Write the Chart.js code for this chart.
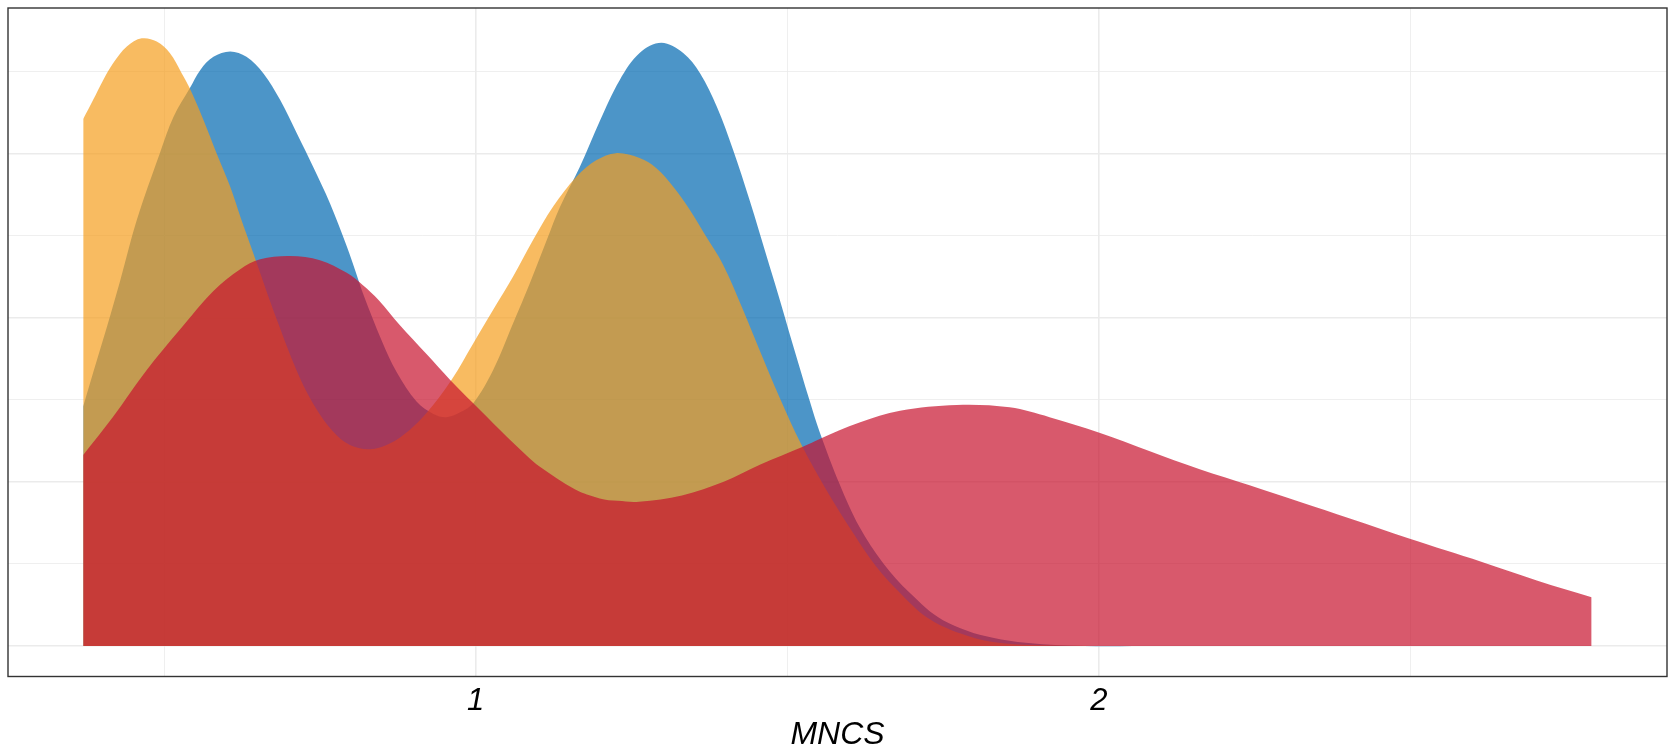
<!DOCTYPE html>
<html lang="en">
<head>
    <meta charset="UTF-8">
    <title>MNCS density</title>
    <script src="https://cdn.jsdelivr.net/npm/chart.js"></script>
    <style>
        html, body {
            margin: 0;
            padding: 0;
            background: #ffffff;
        }
        .container {
            width: 1671px;
            height: 750px;
        }
    </style>
</head>
<body>
    <div class="container">
        <canvas id="densityChart"></canvas>
    </div>

    <script>
        // density curves (x = MNCS)
        const orangeX = [0.370, 0.386, 0.402, 0.418, 0.440, 0.464, 0.488, 0.509, 0.528, 0.541, 0.563, 0.584, 0.606, 0.624, 0.643, 0.681, 0.718, 0.745, 0.771, 0.798, 0.830, 0.862, 0.894, 0.921, 0.961, 0.996, 1.028, 1.060, 1.092, 1.124, 1.162, 1.194, 1.225, 1.263, 1.290, 1.317, 1.344, 1.370, 1.397, 1.429, 1.456, 1.488, 1.523, 1.563, 1.606, 1.643, 1.681, 1.723, 1.777, 1.830, 1.910, 2.100, 2.791];
        const orangeY = [1.285, 1.332, 1.380, 1.421, 1.462, 1.482, 1.474, 1.446, 1.397, 1.360, 1.283, 1.202, 1.120, 1.039, 0.958, 0.795, 0.653, 0.576, 0.523, 0.490, 0.480, 0.494, 0.527, 0.568, 0.649, 0.738, 0.820, 0.901, 0.990, 1.071, 1.145, 1.185, 1.202, 1.190, 1.165, 1.120, 1.063, 0.998, 0.930, 0.820, 0.720, 0.605, 0.490, 0.380, 0.275, 0.193, 0.129, 0.071, 0.031, 0.010, 0.002, 0, 0];

        const blueX = [0.370, 0.386, 0.408, 0.429, 0.456, 0.493, 0.515, 0.541, 0.558, 0.579, 0.606, 0.632, 0.659, 0.686, 0.713, 0.739, 0.766, 0.793, 0.809, 0.820, 0.849, 0.873, 0.905, 0.932, 0.953, 0.975, 0.996, 1.028, 1.060, 1.087, 1.114, 1.135, 1.167, 1.199, 1.231, 1.263, 1.298, 1.333, 1.360, 1.387, 1.413, 1.440, 1.467, 1.485, 1.509, 1.536, 1.552, 1.584, 1.616, 1.654, 1.697, 1.750, 1.830, 1.937, 2.100, 2.791];
        const blueY = [0.584, 0.667, 0.778, 0.889, 1.039, 1.202, 1.291, 1.360, 1.405, 1.437, 1.450, 1.437, 1.397, 1.332, 1.250, 1.169, 1.080, 0.975, 0.905, 0.856, 0.745, 0.668, 0.596, 0.566, 0.558, 0.570, 0.592, 0.673, 0.787, 0.885, 0.990, 1.070, 1.168, 1.280, 1.380, 1.446, 1.471, 1.446, 1.397, 1.315, 1.210, 1.085, 0.950, 0.860, 0.735, 0.598, 0.522, 0.395, 0.290, 0.202, 0.129, 0.063, 0.020, 0.002, 0, 0];

        const redX = [0.370, 0.418, 0.472, 0.525, 0.579, 0.622, 0.654, 0.702, 0.750, 0.793, 0.819, 0.844, 0.878, 0.921, 0.959, 0.996, 1.039, 1.082, 1.103, 1.159, 1.199, 1.228, 1.262, 1.331, 1.399, 1.456, 1.525, 1.552, 1.616, 1.681, 1.772, 1.857, 1.921, 2.001, 2.082, 2.162, 2.242, 2.322, 2.403, 2.498, 2.615, 2.703, 2.791];
        const redY = [0.466, 0.559, 0.673, 0.771, 0.866, 0.919, 0.943, 0.951, 0.941, 0.910, 0.880, 0.844, 0.783, 0.712, 0.649, 0.592, 0.527, 0.464, 0.437, 0.382, 0.360, 0.354, 0.352, 0.367, 0.401, 0.442, 0.486, 0.505, 0.545, 0.574, 0.588, 0.582, 0.558, 0.520, 0.475, 0.431, 0.392, 0.352, 0.311, 0.262, 0.205, 0.160, 0.119];

        // axis breaks
        const xGrid = [0.5, 1, 1.5, 2, 2.5];
        const xLabels = [1, 2];
        const yGrid = [0, 0.2, 0.4, 0.6, 0.8, 1.0, 1.2, 1.4];
        const yMajor = [0, 0.4, 0.8, 1.2];
        const xRange = [0.2493, 2.912];
        const yRange = [-0.0744, 1.556];
        const xTitle = 'MNCS';

        function toPoints(xs, ys) {
            return xs.map((x, i) => ({ x: x, y: ys[i] }));
        }

        function area(label, xs, ys, color, order) {
            return {
                label: label,
                data: toPoints(xs, ys),
                backgroundColor: color,
                borderColor: 'rgba(0,0,0,0)',
                borderWidth: 0,
                pointRadius: 0,
                fill: 'origin',
                tension: 0.35,
                order: order
            };
        }

        // border round the panel, drawn last like ggplot's panel.border
        const panelBorder = {
            id: 'panelBorder',
            afterDraw(chart) {
                const a = chart.chartArea;
                const c = chart.ctx;
                c.save();
                c.strokeStyle = '#333333';
                c.lineWidth = 1.4;
                c.strokeRect(a.left, a.top, a.right - a.left, a.bottom - a.top);
                c.restore();
            }
        };

        // x tick labels and title, italic like the original
        const axisText = {
            id: 'axisText',
            afterDraw(chart) {
                const c = chart.ctx;
                const a = chart.chartArea;
                const xs = chart.scales.x;
                const put = (text, x, y, size) => {
                    c.save();
                    c.translate(x, y);
                    c.scale(size / 60, size / 60);
                    c.font = 'italic 60px "Liberation Sans"';
                    c.fillStyle = '#000000';
                    c.textAlign = 'center';
                    c.textBaseline = 'middle';
                    c.fillText(text, 0, 0);
                    c.restore();
                };
                xLabels.forEach(v => put(String(v), xs.getPixelForValue(v), a.bottom + 24.5, 31));
                put(xTitle, (a.left + a.right) / 2, chart.height - 15, 32);
            }
        };

        const near = (v, list) => list.some(m => Math.abs(m - v) < 1e-6);

        const ctx = document.getElementById('densityChart').getContext('2d');
        const densityChart = new Chart(ctx, {
            type: 'line',
            data: {
                datasets: [
                    area('Group C', redX, redY, 'rgba(200, 18, 46, 0.7)', 1),
                    area('Group B', orangeX, orangeY, 'rgba(245, 158, 30, 0.7)', 2),
                    area('Group A', blueX, blueY, 'rgba(0, 104, 176, 0.7)', 3)
                ]
            },
            options: {
                responsive: true,
                maintainAspectRatio: false,
                animation: false,
                layout: {
                    padding: { left: 8, right: 4, top: 8, bottom: 0 }
                },
                plugins: {
                    legend: { display: false },
                    tooltip: { enabled: false }
                },
                scales: {
                    x: {
                        type: 'linear',
                        min: xRange[0],
                        max: xRange[1],
                        afterBuildTicks: s => { s.ticks = xGrid.map(v => ({ value: v })); },
                        afterFit: s => { s.height = 73.5; },
                        border: { display: false },
                        grid: {
                            color: '#EBEBEB',
                            drawTicks: false,
                            lineWidth: c => (c.tick && near(c.tick.value, xLabels)) ? 1.6 : 0.8
                        },
                        ticks: { display: false }
                    },
                    y: {
                        type: 'linear',
                        min: yRange[0],
                        max: yRange[1],
                        afterBuildTicks: s => { s.ticks = yGrid.map(v => ({ value: v })); },
                        afterFit: s => { s.width = 0; },
                        border: { display: false },
                        grid: {
                            color: '#EBEBEB',
                            drawTicks: false,
                            lineWidth: c => (c.tick && near(c.tick.value, yMajor)) ? 1.6 : 0.8
                        },
                        ticks: { display: false }
                    }
                }
            },
            plugins: [panelBorder, axisText]
        });

        // redraw once the page has settled
        const redraw = () => densityChart.update('none');
        window.addEventListener('load', redraw);
        setTimeout(redraw, 150);
    </script>
</body>
</html>
